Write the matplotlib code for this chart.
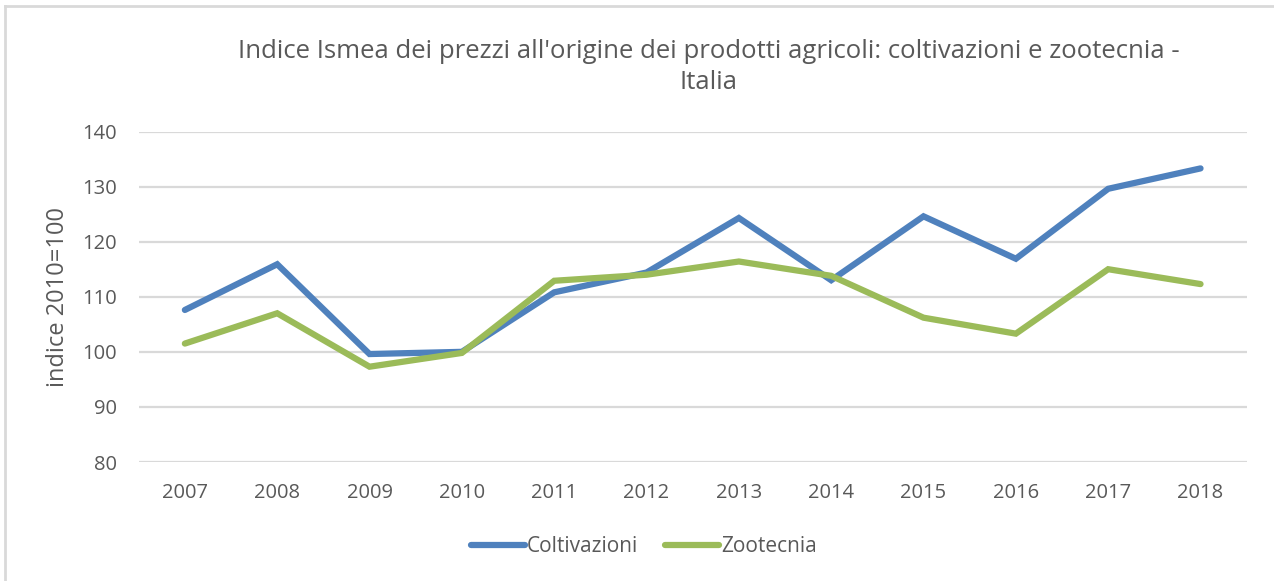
import matplotlib
matplotlib.use("Agg")
import matplotlib.pyplot as plt
from matplotlib.lines import Line2D

plt.rcParams['font.family'] = ['Open Sans', 'DejaVu Sans']

years = ['2007', '2008', '2009', '2010', '2011', '2012', '2013', '2014', '2015', '2016', '2017', '2018']
coltivazioni = [107.6, 115.9, 99.6, 100.0, 110.8, 114.4, 124.3, 113.0, 124.6, 116.9, 129.6, 133.3]
zootecnia = [101.5, 107.0, 97.3, 99.8, 112.9, 114.0, 116.4, 113.8, 106.2, 103.3, 115.0, 112.3]
yticks = [80, 90, 100, 110, 120, 130, 140]

title = "Indice Ismea dei prezzi all'origine dei prodotti agricoli: coltivazioni e zootecnia -\nItalia"
ylabel = "indice 2010=100"
labels = ['Coltivazioni', 'Zootecnia']
colors = ['#4f81bd', '#9bbb59']
txt = '#595959'

W, H = 1274, 581
fig = plt.figure(figsize=(W / 100, H / 100), dpi=100)
ax = fig.add_axes([138.7 / W, 1 - 462 / H, (1246.7 - 138.7) / W, (462 - 131.5) / H])

x = list(range(len(years)))
ax.plot(x, coltivazioni, color=colors[0], lw=4.5, solid_capstyle='round', solid_joinstyle='miter', zorder=3)
ax.plot(x, zootecnia, color=colors[1], lw=4.5, solid_capstyle='round', solid_joinstyle='miter', zorder=3)

ax.set_xlim(-0.5, len(years) - 0.5)
ax.set_ylim(80, 140)
ax.set_yticks(yticks)
ax.set_xticks(x)
ax.set_xticklabels(years)
ax.grid(axis='y', color='#d9d9d9', lw=1.6, zorder=0)
for s in ax.spines.values():
    s.set_visible(False)
ax.tick_params(axis='both', length=0, labelsize=14.5, colors=txt)
ax.tick_params(axis='x', pad=15)
ax.tick_params(axis='y', pad=15.5)
ax.set_ylabel(ylabel, fontsize=17, color=txt)
ax.yaxis.set_label_coords((70 - 138.7) / (1246.7 - 138.7), 0.5)

fig.text(709 / W, 1 - 67 / H, title, ha='center', va='center', fontsize=18.5, color=txt, linespacing=1.3)

handles = [Line2D([0], [0], color=c, lw=4.5, solid_capstyle='round') for c in colors]
fig.legend(handles, labels, loc='center', bbox_to_anchor=(644 / W, 1 - 547 / H), ncol=2, frameon=False,
           fontsize=15, labelcolor=txt, handlelength=2.6, handletextpad=0.1, columnspacing=1.3)

# partial chart border (top and left)
fig.add_artist(Line2D([5 / W, 1], [1 - 6 / H, 1 - 6 / H], color='#d9d9d9', lw=2, transform=fig.transFigure))
fig.add_artist(Line2D([5 / W, 5 / W], [0, 1 - 6 / H], color='#d9d9d9', lw=2, transform=fig.transFigure))

fig.savefig('out.png', dpi=100)
